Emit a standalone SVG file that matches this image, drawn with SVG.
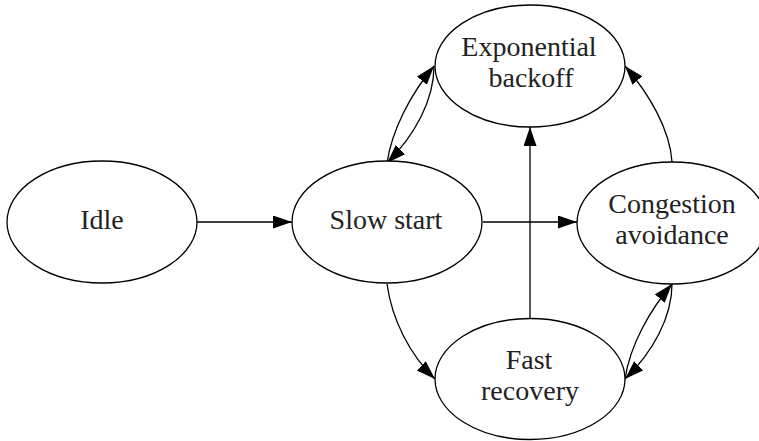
<svg xmlns="http://www.w3.org/2000/svg" width="759" height="441" viewBox="0 0 759 441">
<style>
.n{fill:#fff;stroke:#000;stroke-width:1.3}
.t{font-size:28px;fill:#222;text-anchor:middle}
.e{fill:none;stroke:#000;stroke-width:1.3}
</style>
<defs>
<marker id="a" markerUnits="userSpaceOnUse" markerWidth="21" markerHeight="14" refX="19" refY="6.5" orient="auto">
<path d="M0,0 L19,6.5 L0,13 z" fill="#000"/>
</marker>
</defs>
<rect width="759" height="441" fill="#fff"/>
<g id="edges">
<path class="e" d="M197,222 L292,222" marker-end="url(#a)"/>
<path class="e" d="M483,222 L577,222" marker-end="url(#a)"/>
<path class="e" d="M530,318 L530,127" marker-end="url(#a)"/>
<path class="e" d="M387,163 C392,130 410,95 434,66" marker-end="url(#a)"/>
<path class="e" d="M434,66 C434,100 415,135 387,163" marker-end="url(#a)"/>
<path class="e" d="M625,379 C630,345 650,310 672,284" marker-end="url(#a)"/>
<path class="e" d="M672,284 C672,317 653,352 625,379" marker-end="url(#a)"/>
<path class="e" d="M672,162 C670,130 650,95 625,66" marker-end="url(#a)"/>
<path class="e" d="M387,284 C392,320 410,355 435,379" marker-end="url(#a)"/>
</g>
<g id="idle">
<ellipse class="n" cx="102" cy="222" rx="95" ry="61"/>
<text class="t" x="102" y="229" font-family="Liberation Serif">Idle</text>
</g>
<g id="slowstart">
<ellipse class="n" cx="387" cy="222" rx="95" ry="61"/>
<text class="t" x="386" y="229" font-family="Liberation Serif">Slow start</text>
</g>
<g id="backoff">
<ellipse class="n" cx="530" cy="66" rx="95" ry="61"/>
<text class="t" x="529" y="56" font-family="Liberation Serif">Exponential</text>
<text class="t" x="531" y="87" font-family="Liberation Serif">backoff</text>
</g>
<g id="congestion">
<ellipse class="n" cx="672" cy="223" rx="95" ry="61"/>
<text class="t" x="672" y="213" font-family="Liberation Serif">Congestion</text>
<text class="t" x="672" y="244" font-family="Liberation Serif">avoidance</text>
</g>
<g id="fastrecovery">
<ellipse class="n" cx="530" cy="379" rx="95" ry="60.5"/>
<text class="t" x="529" y="369" font-family="Liberation Serif">Fast</text>
<text class="t" x="530" y="400" font-family="Liberation Serif">recovery</text>
</g>
</svg>
